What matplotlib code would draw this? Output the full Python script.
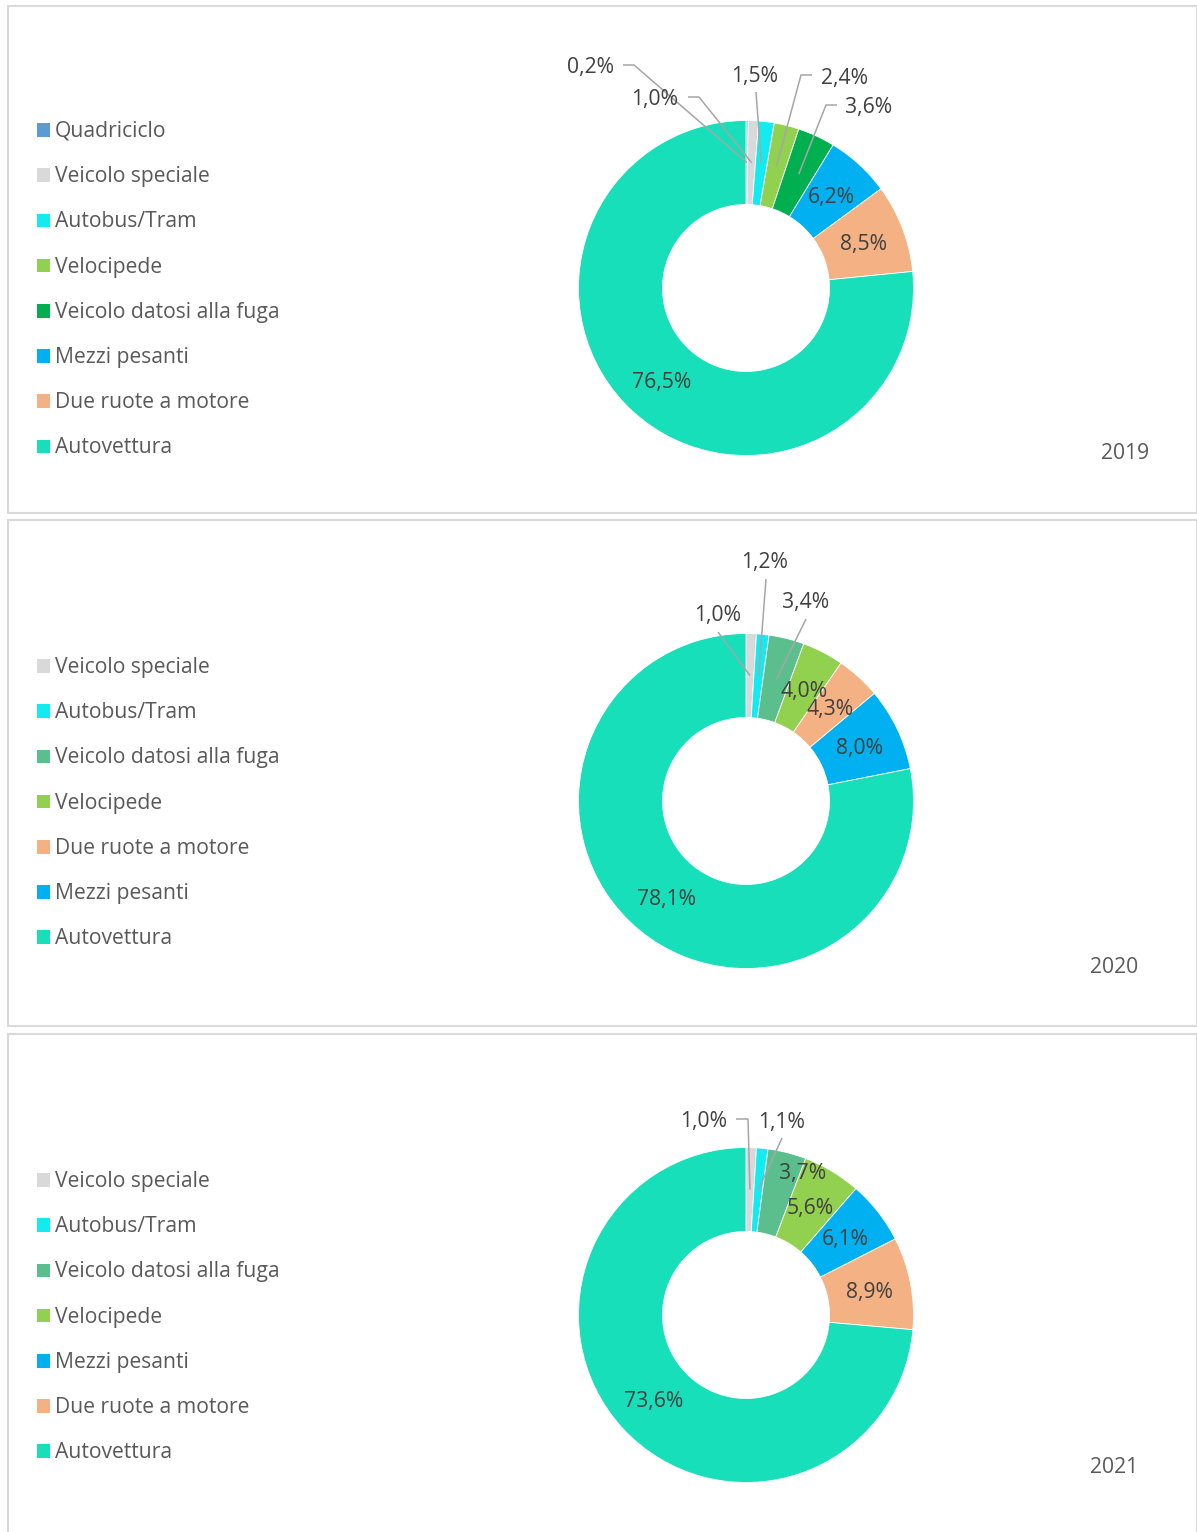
import numpy as np
import matplotlib
matplotlib.use("Agg")
import matplotlib.pyplot as plt
from matplotlib.patches import Rectangle

plt.rcParams['font.family'] = ['Open Sans', 'DejaVu Sans']

# ---------------- data ----------------
years = ["2019", "2020", "2021"]

cats_2019 = ["Quadriciclo", "Veicolo speciale", "Autobus/Tram", "Velocipede",
             "Veicolo datosi alla fuga", "Mezzi pesanti", "Due ruote a motore", "Autovettura"]
vals_2019 = [0.2, 1.0, 1.5, 2.4, 3.6, 6.2, 8.5, 76.5]

cats_2020 = ["Veicolo speciale", "Autobus/Tram", "Veicolo datosi alla fuga", "Velocipede",
             "Due ruote a motore", "Mezzi pesanti", "Autovettura"]
vals_2020 = [1.0, 1.2, 3.4, 4.0, 4.3, 8.0, 78.1]

cats_2021 = ["Veicolo speciale", "Autobus/Tram", "Veicolo datosi alla fuga", "Velocipede",
             "Mezzi pesanti", "Due ruote a motore", "Autovettura"]
vals_2021 = [1.0, 1.1, 3.7, 5.6, 6.1, 8.9, 73.6]

colors_2019 = {"Quadriciclo": "#5B9BD5", "Veicolo speciale": "#D9D9D9", "Autobus/Tram": "#12EBF0",
               "Velocipede": "#92D050", "Veicolo datosi alla fuga": "#00B050",
               "Mezzi pesanti": "#00B0F0", "Due ruote a motore": "#F4B183", "Autovettura": "#17DFBA"}
colors_later = dict(colors_2019)
colors_later["Veicolo datosi alla fuga"] = "#5BBF8D"

# ---------------- layout (pixels) ----------------
W, H = 1197, 1532
fig = plt.figure(figsize=(W / 100, H / 100), dpi=100)
ax = fig.add_axes([0, 0, 1, 1])

TXT_DY = 1.5  # small downward nudge for all text

def Y(y):
    return H - y

def TY(y):
    return H - y - TXT_DY

panels = [
    dict(year="2019", cats=cats_2019, vals=vals_2019, colors=colors_2019,
         top=6, bottom=513, cy=288, legend_y0=130, year_xy=(1125, 452),
         special={0: ((590, 66), [(623, 65), (634, 65)]),
                  1: ((655, 98), [(688, 97), (699, 97)]),
                  2: ((755, 75), [(756, 92)]),
                  3: ((844, 77), [(812, 75), (801, 75)]),
                  4: ((869, 106), [(837, 105), (826, 105)])}),
    dict(year="2020", cats=cats_2020, vals=vals_2020, colors=colors_later,
         top=520, bottom=1026, cy=801, legend_y0=666, year_xy=(1114, 966),
         special={0: ((718, 614), [(718, 632)]),
                  1: ((765, 561), [(766, 579)]),
                  2: ((806, 601), [(806, 619)])}),
    dict(year="2021", cats=cats_2021, vals=vals_2021, colors=colors_later,
         top=1034, bottom=1545, cy=1315, legend_y0=1180, year_xy=(1114, 1466),
         special={0: ((704, 1120), [(736, 1119), (748, 1119)]),
                  1: ((782, 1121), [(782, 1138)]),
                  2: ((803, 1172), None)}),
]

CX = 746
R = 167.5
WIDTH = 84
LEG_STEP = 45.2
FS = 15.2
txt_legend = "#595959"
txt_label = "#404040"
leader_col = "#A6A6A6"

for p in panels:
    # panel frame
    ax.add_patch(Rectangle((7.5, Y(p["bottom"])), 1196.5 - 7.5, p["bottom"] - p["top"],
                           facecolor="none", edgecolor="#D9D9D9", lw=1.5, zorder=1))
    cols = [p["colors"][c] for c in p["cats"]]
    wedges, _ = ax.pie(p["vals"], colors=cols, startangle=90, counterclock=False,
                       radius=R, center=(CX, Y(p["cy"])),
                       wedgeprops=dict(width=WIDTH, edgecolor="white", linewidth=0.6))
    rmid = R - WIDTH / 2
    for i, (w, v) in enumerate(zip(wedges, p["vals"])):
        lab = f"{v:.1f}".replace(".", ",") + "%"
        th = np.deg2rad((w.theta1 + w.theta2) / 2)
        ex, ey = CX + rmid * np.cos(th), Y(p["cy"]) + rmid * np.sin(th)
        if i in p["special"]:
            (tx, ty), leader = p["special"][i]
            ax.text(tx, TY(ty), lab, ha="center", va="center", fontsize=FS, color=txt_label, zorder=5)
            if leader is not None:
                xs = [q[0] for q in leader] + [ex]
                ys = [Y(q[1]) for q in leader] + [ey]
                ax.plot(xs, ys, color=leader_col, lw=1.1, zorder=4, solid_capstyle="butt")
        else:
            ax.text(ex, ey - TXT_DY, lab, ha="center", va="center", fontsize=FS, color=txt_label, zorder=5)
    # legend
    for k, c in enumerate(p["cats"]):
        yy = p["legend_y0"] + k * LEG_STEP
        ax.add_patch(Rectangle((36.5, Y(yy) - 6.8), 13.8, 13.6, facecolor=p["colors"][c],
                               edgecolor="none", zorder=3))
        ax.text(55, TY(yy), c, ha="left", va="center", fontsize=FS, color=txt_legend)
    ax.text(p["year_xy"][0], TY(p["year_xy"][1]), p["year"], ha="center", va="center",
            fontsize=FS, color=txt_legend)

ax.set_aspect("auto")
ax.set_xlim(0, W)
ax.set_ylim(0, H)
ax.axis("off")
fig.savefig("out.png", dpi=100, facecolor="white")
